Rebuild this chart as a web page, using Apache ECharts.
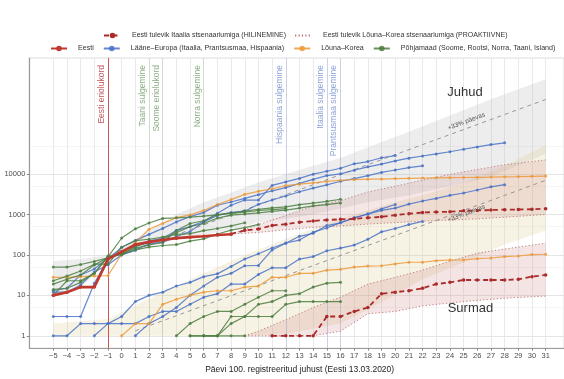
<!DOCTYPE html>
<html>
<head>
<meta charset="utf-8">
<script src="https://cdn.jsdelivr.net/npm/echarts@6/dist/echarts.min.js"></script>
<style>
  html, body { margin: 0; padding: 0; background: #ffffff; }
  #chart { width: 564px; height: 379px; }
</style>
</head>
<body>
<div id="chart"></div>
<script>
// ---- Tick labels ----------------------------------------------------------
const xTicks = [-5, -4, -3, -2, -1, 0, 1, 2, 3, 4, 5, 6, 7, 8, 9, 10, 11, 12, 13,
                14, 15, 16, 17, 18, 19, 20, 21, 22, 23, 24, 25, 26, 27, 28, 29, 30, 31];
const yTicks = [1, 10, 100, 1000, 10000];
const yMinorLines = [5, 50, 500, 5000, 50000];

// ---- Series names ----------------------------------------------------------
const NAME_EESTI = 'Eesti';
const NAME_LAANE = 'Lääne–Europa (Itaalia, Prantsusmaa, Hispaania)';
const NAME_KOREA = 'Lõuna–Korea';
const NAME_POHJA = 'Põhjamaad (Soome, Rootsi, Norra, Taani, Island)';
const NAME_HILINE = 'Eesti tulevik Itaalia stsenaariumiga (HILINEMINE)';
const NAME_PROAKT = 'Eesti tulevik Lõuna–Korea stsenaariumiga (PROAKTIIVNE)';

// ---- Cases (juhud) & deaths (surmad); each array starts at the given day ---
const eestiJuhudStart = -5;
const eestiJuhud = [10, 12, 16, 16, 79, 120, 180, 210, 235, 260, 275, 290, 310, 326];

const eestiItaaliaJuhudStart = 8;
const eestiItaaliaJuhud = [330, 405, 437, 535, 575, 645, 695, 730, 760, 780, 830, 875,
                           960, 1050, 1120, 1150, 1170, 1230, 1260, 1290, 1320, 1330, 1350, 1390];
const eestiItaaliaSurmadStart = 11;
const eestiItaaliaSurmad = [1, 1, 1, 1, 3, 3, 4, 5, 11, 12, 13, 15, 19, 21, 24, 24, 24, 24, 25, 29, 32];

const itaaliaJuhudStart = -5;
const itaaliaJuhud = [3, 3, 3, 20, 79, 155, 229, 322, 453, 655, 888, 1128, 1694, 2036, 2502,
                      3089, 3858, 4636, 5883, 7375, 9172, 10149, 12462, 15113, 17660, 21157,
                      24747, 27980, 31506, 35713, 41035, 47021, 53578, 59138];
const itaaliaSurmadStart = -2;
const itaaliaSurmad = [1, 2, 3, 7, 10, 12, 17, 21, 29, 34, 52, 79, 107, 148, 197, 233, 366, 463,
                       631, 827, 1016, 1266, 1441, 1809, 2158, 2503, 2978, 3405, 4032, 4825, 5476];

const prantsusmaaJuhudStart = -5;
const prantsusmaaJuhud = [12, 12, 18, 38, 57, 100, 130, 191, 204, 285, 377, 653, 949, 1126, 1209,
                          1784, 2281, 2876, 3661, 4499, 5423, 6633, 7730, 9134, 10995, 12612, 14459, 16018];
const prantsusmaaSurmadStart = -5;
const prantsusmaaSurmad = [1, 1, 2, 2, 2, 2, 2, 3, 4, 4, 6, 9, 11, 19, 19, 33, 48, 48, 79, 91,
                           127, 148, 175, 244, 372, 450, 562, 674];

const hispaaniaJuhudStart = -5;
const hispaaniaJuhud = [13, 15, 32, 45, 84, 120, 165, 222, 259, 400, 500, 673, 1073, 1695, 2277,
                        2277, 5232, 6391, 7798, 9942, 11748, 13910, 17963, 20410, 25374, 28603];
const hispaaniaSurmadStart = 1;
const hispaaniaSurmad = [1, 2, 3, 5, 10, 17, 28, 35, 54, 55, 133, 195, 289, 342, 533, 623, 830,
                         1043, 1375, 1772];

const koreaJuhudStart = -5;
const koreaJuhud = [28, 28, 29, 30, 31, 104, 204, 433, 602, 833, 977, 1261, 1766, 2337, 3150,
                    3736, 4335, 5186, 5621, 6088, 6593, 7041, 7314, 7478, 7513, 7755, 7869, 7979,
                    8086, 8162, 8236, 8320, 8413, 8565, 8652, 8799, 8897];
const koreaSurmadStart = 0;
const koreaSurmad = [1, 2, 2, 6, 8, 10, 12, 13, 13, 16, 17, 28, 28, 35, 35, 42, 44, 50, 53, 54,
                     60, 66, 66, 72, 75, 75, 81, 84, 91, 94, 102, 104];

const norraJuhudStart = -5;
const norraJuhud = [19, 25, 32, 56, 87, 108, 147, 176, 205, 400, 598, 702, 996, 1090, 1221, 1333,
                    1463, 1550, 1746, 1914, 2118, 2385];
const rootsiJuhudStart = -5;
const rootsiJuhud = [14, 15, 21, 35, 94, 101, 161, 203, 248, 355, 500, 599, 814, 961, 1022, 1103,
                     1190, 1279, 1439, 1639, 1763, 1934];
const taaniJuhudStart = -5;
const taaniJuhud = [10, 23, 23, 35, 90, 262, 442, 615, 801, 827, 864, 914, 977, 1057, 1151, 1255,
                    1326, 1395];
const islandJuhudStart = -5;
const islandJuhud = [50, 50, 58, 69, 85, 103, 134, 156, 171, 180, 220, 250, 330, 409, 473, 568];
const soomeJuhudStart = -5;
const soomeJuhud = [23, 30, 40, 59, 59, 155, 225, 244, 277, 321, 336, 400, 450, 523, 626];

const taaniSurmadStart = 4;
const taaniSurmad = [1, 2, 3, 4, 4, 6, 9, 13, 13];
const rootsiSurmadStart = 5;
const rootsiSurmad = [1, 1, 1, 2, 3, 6, 7, 10, 11, 16, 20, 21];
const norraSurmadStart = 6;
const norraSurmad = [1, 1, 3, 3, 3, 3, 6, 7, 7, 7, 7];
const islandSurmadStart = 5;
const islandSurmad = [1, 1, 1, 1, 1];

// ---- +33 % per day reference lines (end points) ---------------------------
const kasvJuhud = [[0, 100], [31, 700000]];
const kasvSurmad = [[1, 1.33], [31, 7000]];

// ---- Bands (day, lower, upper) ---------------------------------------------
const hallPaevad = [-5, -3, -1, 0, 2, 4, 6, 8, 10, 12, 14, 16, 18, 21, 24, 27, 31];
const hallAlumine = [10, 16, 63, 100, 160, 250, 320, 420, 630, 800, 1000, 1400, 2000, 3000, 5000, 8500, 32000];
const hallUlemine = [71, 79, 100, 141, 400, 1000, 2000, 3500, 6300, 10000, 16000, 25000, 46000,
                     112000, 280000, 710000, 2200000];

const beezPaevad = [-5, -1, 2, 6, 9, 12, 16, 20, 22, 25, 28, 31];
const beezAlumine = [1, 1, 1, 1, 1, 1.1, 2, 10, 25, 65, 180, 400];
const beezUlemine = [2, 2.6, 8.3, 35, 100, 250, 800, 2000, 3000, 6000, 16000, 51000];

const roosaJuhudPaevad = [8, 10, 12, 14, 16, 18, 20, 22, 24, 26, 28, 31];
const roosaJuhudAlumine = [330, 360, 420, 480, 520, 580, 630, 680, 730, 780, 860, 1000];
const roosaJuhudUlemine = [330, 560, 950, 1600, 2200, 3600, 5000, 7100, 9800, 13000, 17000, 22400];

const roosaSurmadPaevad = [9, 10, 12, 14, 16, 18, 20, 22, 24, 26, 28, 31];
const roosaSurmadAlumine = [1, 1, 1, 1, 1.3, 3.5, 4, 5.5, 6.5, 7.5, 8.5, 9.6];
const roosaSurmadUlemine = [1, 1.3, 2.5, 5, 9, 19, 28, 42, 70, 110, 140, 195];

// ---- Events (vertical markers) ---------------------------------------------
const sundmusePaevad = [-1, 2, 3, 6, 12, 15, 16];
const sundmuseTekstid = ['Eesti eriolukord', 'Taani sulgemine', 'Soome eriolukord', 'Norra sulgemine',
                         'Hispaania sulgemine', 'Itaalia sulgemine', 'Prantsusmaa sulgemine'];
const sundmuseGrupid = ['eesti', 'pohja', 'pohja', 'pohja', 'laane', 'laane', 'laane'];

// ---- Styling -----------------------------------------------------------------
const FONT = 'Liberation Sans, Arial, sans-serif';
const COL = {
  eesti: '#c0392e', proj: '#aa2b2b', edge: '#b87070',
  blue: '#4a72c6', orange: '#ec9a3c', green: '#4e7f42'
};
const EVENT_STYLE = {
  eesti: { line: 'rgba(205,70,70,0.9)', text: '#c25656' },
  pohja: { line: 'rgba(120,165,110,0.22)', text: '#8cae84' },
  laane: { line: 'rgba(110,140,215,0.25)', text: '#8ea3d7' }
};

function pairs(start, values) {
  return values.map((v, i) => [start + i, v]);
}

function lineSeries(name, start, values, color, extra) {
  return Object.assign({
    type: 'line', name: name, data: pairs(start, values),
    symbol: 'circle', symbolSize: 3, showSymbol: true,
    lineStyle: { width: 1.2, color: color, opacity: 0.85 },
    itemStyle: { color: color, opacity: 0.85 },
    z: 6, silent: true
  }, extra || {});
}

function bandSeries(days, low, high, fill, z) {
  return {
    type: 'custom', coordinateSystem: 'cartesian2d', silent: true, z: z,
    data: [[days[0], low[0]]],
    renderItem: function (params, api) {
      const top = days.map((d, i) => api.coord([d, high[i]]));
      const bottom = days.map((d, i) => api.coord([d, low[i]])).reverse();
      return { type: 'polygon', shape: { points: top.concat(bottom) }, style: { fill: fill } };
    }
  };
}

function edgeSeries(days, values) {
  return {
    type: 'line', name: NAME_PROAKT, data: days.map((d, i) => [d, values[i]]),
    symbol: 'none', silent: true, z: 4,
    lineStyle: { width: 0.9, color: COL.edge, type: [1.2, 2.2] },
    itemStyle: { color: COL.edge }
  };
}

const gridLines = []
  .concat(yMinorLines.map(v => ({ yAxis: v, lineStyle: { color: '#efefef', width: 0.6, type: 'solid' } })))
  .concat(yTicks.map(v => ({ yAxis: v, lineStyle: { color: '#e2e2e2', width: 0.9, type: 'solid' } })))
  .concat(xTicks.map(d => ({ xAxis: d, lineStyle: { color: '#e4e4e4', width: 0.8, type: 'solid' } })));

const eventLines = sundmusePaevad.map((d, i) => {
  const st = EVENT_STYLE[sundmuseGrupid[i]];
  return {
    xAxis: d,
    lineStyle: { color: st.line, width: 1, type: 'solid' },
    label: {
      show: true, formatter: sundmuseTekstid[i], position: 'insideEndTop',
      color: st.text, fontSize: 8.5, fontFamily: FONT, distance: [7, 2]
    }
  };
});

const series = [
  // background grid
  {
    type: 'line', data: [[0, 1]], symbol: 'none', silent: true, z: 0,
    lineStyle: { opacity: 0 },
    markLine: { silent: true, symbol: ['none', 'none'], label: { show: false }, data: gridLines, z: 0 }
  },
  // bands
  bandSeries(hallPaevad, hallAlumine, hallUlemine, 'rgba(165,165,165,0.2)', 1),
  bandSeries(beezPaevad, beezAlumine, beezUlemine, 'rgba(215,195,130,0.22)', 1),
  bandSeries(roosaJuhudPaevad, roosaJuhudAlumine, roosaJuhudUlemine, 'rgba(205,120,120,0.18)', 2),
  bandSeries(roosaSurmadPaevad, roosaSurmadAlumine, roosaSurmadUlemine, 'rgba(205,120,120,0.2)', 2),
  edgeSeries(roosaJuhudPaevad, roosaJuhudUlemine),
  edgeSeries(roosaJuhudPaevad, roosaJuhudAlumine),
  edgeSeries(roosaSurmadPaevad, roosaSurmadUlemine),
  edgeSeries(roosaSurmadPaevad, roosaSurmadAlumine),
  // +33 % per day guides
  {
    type: 'line', data: kasvJuhud, symbol: 'none', silent: true, z: 3,
    lineStyle: { color: '#8c8c8c', width: 0.9, type: [4, 4] }
  },
  {
    type: 'line', data: kasvSurmad, symbol: 'none', silent: true, z: 3,
    lineStyle: { color: '#8c8c8c', width: 0.9, type: [4, 4] }
  },
  // event markers
  {
    type: 'line', data: [[0, 1]], symbol: 'none', silent: true, z: 3,
    lineStyle: { opacity: 0 },
    markLine: { silent: true, symbol: ['none', 'none'], data: eventLines, z: 3 }
  },
  // Western Europe
  lineSeries(NAME_LAANE, itaaliaJuhudStart, itaaliaJuhud, COL.blue),
  lineSeries(NAME_LAANE, prantsusmaaJuhudStart, prantsusmaaJuhud, COL.blue),
  lineSeries(NAME_LAANE, hispaaniaJuhudStart, hispaaniaJuhud, COL.blue),
  lineSeries(NAME_LAANE, itaaliaSurmadStart, itaaliaSurmad, COL.blue),
  lineSeries(NAME_LAANE, prantsusmaaSurmadStart, prantsusmaaSurmad, COL.blue),
  lineSeries(NAME_LAANE, hispaaniaSurmadStart, hispaaniaSurmad, COL.blue),
  // South Korea
  lineSeries(NAME_KOREA, koreaJuhudStart, koreaJuhud, COL.orange),
  lineSeries(NAME_KOREA, koreaSurmadStart, koreaSurmad, COL.orange),
  // Nordics
  lineSeries(NAME_POHJA, norraJuhudStart, norraJuhud, COL.green),
  lineSeries(NAME_POHJA, rootsiJuhudStart, rootsiJuhud, COL.green),
  lineSeries(NAME_POHJA, taaniJuhudStart, taaniJuhud, COL.green),
  lineSeries(NAME_POHJA, islandJuhudStart, islandJuhud, COL.green),
  lineSeries(NAME_POHJA, soomeJuhudStart, soomeJuhud, COL.green),
  lineSeries(NAME_POHJA, taaniSurmadStart, taaniSurmad, COL.green),
  lineSeries(NAME_POHJA, rootsiSurmadStart, rootsiSurmad, COL.green),
  lineSeries(NAME_POHJA, norraSurmadStart, norraSurmad, COL.green),
  lineSeries(NAME_POHJA, islandSurmadStart, islandSurmad, COL.green),
  // Estonia and its projections
  lineSeries(NAME_HILINE, eestiItaaliaJuhudStart, eestiItaaliaJuhud, COL.proj, {
    symbolSize: 3.5, z: 8,
    lineStyle: { width: 1.8, color: COL.proj, type: [5, 3.5] }, itemStyle: { color: COL.proj }
  }),
  lineSeries(NAME_HILINE, eestiItaaliaSurmadStart, eestiItaaliaSurmad, COL.proj, {
    symbolSize: 3.5, z: 8,
    lineStyle: { width: 1.8, color: COL.proj, type: [5, 3.5] }, itemStyle: { color: COL.proj }
  }),
  lineSeries(NAME_EESTI, eestiJuhudStart, eestiJuhud, COL.eesti, {
    symbolSize: 3.5, z: 9,
    lineStyle: { width: 2.6, color: COL.eesti }, itemStyle: { color: COL.eesti }
  })
];

const legendText = { fontSize: 7, color: '#333333', fontFamily: FONT, padding: [0, 0, 0, 6] };
const legendText2 = { fontSize: 7.1, color: '#333333', fontFamily: FONT, padding: [0, 0, 0, 6] };

const chart = echarts.init(document.getElementById('chart'), null, { renderer: 'canvas' });
chart.setOption({
  animation: false,
  backgroundColor: '#ffffff',
  textStyle: { fontFamily: FONT },
  legend: [
    {
      data: [NAME_HILINE, { name: NAME_PROAKT, itemStyle: { opacity: 0 } }],
      left: 98, top: 27, width: 460, itemWidth: 17, itemHeight: 7,
      itemGap: 8, selectedMode: false, textStyle: legendText
    },
    {
      data: [NAME_EESTI, NAME_LAANE, NAME_KOREA, NAME_POHJA], left: 45, top: 40, width: 530,
      itemWidth: 16, itemHeight: 7, itemGap: 9, selectedMode: false, textStyle: legendText2
    }
  ],
  grid: {
    left: 29.3, right: 0, top: 58, bottom: 22, show: true,
    borderColor: '#dcdcdc', borderWidth: 1, backgroundColor: '#ffffff'
  },
  xAxis: {
    type: 'value', min: -6.754, max: 32.34,
    name: 'Päevi 100. registreeritud juhust (Eesti 13.03.2020)',
    nameLocation: 'middle', nameGap: 16,
    nameTextStyle: { fontSize: 8.5, color: '#222222', fontFamily: FONT, padding: [0, 0, 0, 6] },
    axisLine: { show: true, onZero: false, lineStyle: { color: '#9a9a9a', width: 1 } },
    axisTick: { show: true, customValues: xTicks, length: 2.5, lineStyle: { color: '#8a8a8a' } },
    axisLabel: {
      customValues: xTicks, fontSize: 7.5, color: '#4d4d4d', margin: 4, fontFamily: FONT,
      formatter: v => (v < 0 ? '\u2212' + (-v) : String(v))
    },
    splitLine: { show: false }
  },
  yAxis: {
    type: 'log', logBase: 10, min: 0.496, max: 7.43e6,
    axisLine: { show: true, onZero: false, lineStyle: { color: '#9a9a9a', width: 1.2 } },
    axisTick: { show: true, customValues: yTicks, length: 2.5, lineStyle: { color: '#8a8a8a' } },
    axisLabel: {
      customValues: yTicks, fontSize: 7.5, color: '#4d4d4d', margin: 4, fontFamily: FONT,
      formatter: v => String(Math.round(v))
    },
    splitLine: { show: false },
    minorSplitLine: { show: false }
  },
  series: series
});

// ---- Text annotations anchored to data coordinates ----------------------------
function at(day, value) {
  return chart.convertToPixel({ gridIndex: 0 }, [day, value]);
}
const pJuhud = at(25.1, 1.07e6);
const pSurmad = at(25.5, 4.8);
const pKasv1 = at(25.2, 2.0e5);
const pKasv2 = at(25.2, 1070);
const kasvNurk = 0.361;

chart.setOption({
  graphic: [
    { type: 'text', x: pJuhud[0], y: pJuhud[1], z: 20, silent: true,
      style: { text: 'Juhud', fontSize: 13, fill: '#333333', align: 'center', verticalAlign: 'middle', fontFamily: FONT } },
    { type: 'text', x: pSurmad[0], y: pSurmad[1], z: 20, silent: true,
      style: { text: 'Surmad', fontSize: 13, fill: '#333333', align: 'center', verticalAlign: 'middle', fontFamily: FONT } },
    { type: 'text', x: pKasv1[0], y: pKasv1[1], rotation: kasvNurk, z: 20, silent: true,
      style: { text: '+33% päevas', fontSize: 6.5, fill: '#555555', align: 'center', verticalAlign: 'middle', fontFamily: FONT } },
    { type: 'text', x: pKasv2[0], y: pKasv2[1], rotation: kasvNurk, z: 20, silent: true,
      style: { text: '+33% päevas', fontSize: 6.5, fill: '#555555', align: 'center', verticalAlign: 'middle', fontFamily: FONT } }
  ]
});
</script>
</body>
</html>
